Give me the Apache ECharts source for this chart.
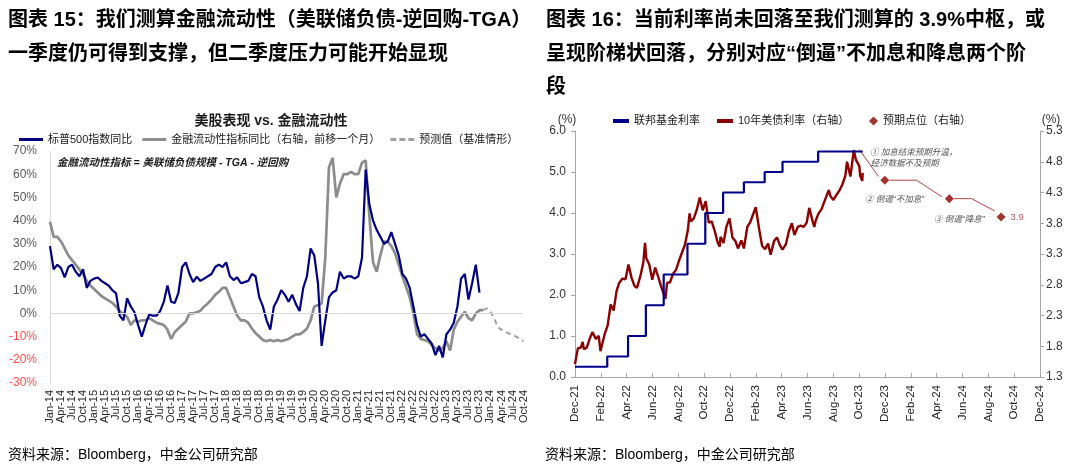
<!DOCTYPE html>
<html><head><meta charset="utf-8">
<script src="https://cdn.jsdelivr.net/npm/echarts@6/dist/echarts.min.js"></script>
<style>html,body{margin:0;padding:0;background:#fff}#c{width:1080px;height:473px}</style>
</head><body><div id="c"></div>
<script>
const FONT = '"Liberation Sans","Noto Sans CJK SC",sans-serif';
const MONTHS = ['Jan','Feb','Mar','Apr','May','Jun','Jul','Aug','Sep','Oct','Nov','Dec'];

// ---------- Left chart: monthly categories Jan-14 .. Oct-24 ----------
const leftCategories = [];
for (let y = 2014; y <= 2024; y++) for (let m = 0; m < 12; m++) {
  if (y === 2024 && m > 9) break;
  leftCategories.push(MONTHS[m] + '-' + String(y).slice(2));
}
const leftYTicks = [-30, 70, 10]; // min, max, step (%)

// S&P 500 YoY (%), Jan-14 .. Oct-23
const spxYoY = [29,19,21,19.5,15.5,20,21,18,16,19,
  11,14,15,15.5,14,13,12,10,8.6,-1,
  -3,6.5,3,0.5,-5,-10,-5,-0.5,-1,-1,
  1,5,12,5,4.5,9,20,22,17,13.5,
  15.8,14,15,16,17,20,21,20,22,16,
  14.4,15.5,13,13.5,14,17,16,7,3,-3,
  -7,3,6,10,8,5,8,4,1,11,
  16,28,25,13,-14,-3,7,9,10,18,
  15,16,16,15,16,24,62,47,40,36,
  33,30,31,35,30,25,17,15,11,3,
  -5,-10,-9,-11,-13,-18,-14,-19,-9,-7,
  -4,3,15,17,6,13,21,9];

// Financial liquidity YoY (%), shifted forward one month, Jan-14 .. Nov-23
const liqYoY = [39.5,33,33,31,28,25,23,21,19,17,
  14,12,10.5,9,7.5,6.5,5.5,4.5,3,1,
  -0.5,-1.4,-5,-3,-3.6,-3,-3,-2,-3,-4,
  -4.5,-5,-7,-11,-8,-6.5,-5,-3.5,0,0,
  0.5,1.2,3,4.3,6,8,9.3,11,11,7,
  3,-1,-3,-3,-4,-6.5,-8.5,-10,-11.5,-12,
  -11.5,-12,-11.5,-12,-11.5,-11,-10,-9,-9,-8,
  -6.5,-3,3,3.6,4.3,24,63,67,50,56,
  60,60,61,60,60,65,66,42,22,18,
  25,31,31,29,26,21,16,11.5,7,0,
  -9,-11,-11.5,-12,-13.6,-15,-16,-15,-12,-16,
  -7,-3.6,-1.4,0.7,-2,-3,0,1.4,1.4];

// Forecast (baseline), Nov-23 .. Oct-24
const forecastStart = 118;
const forecastYoY = [1.4,2.2,0.7,-2,-6,-7,-8,-8.6,-9.3,-10,-11,-12];

// ---------- Right chart ----------
const rateTickLabels = ['Dec-21','Feb-22','Apr-22','Jun-22','Aug-22','Oct-22','Dec-22','Feb-23','Apr-23','Jun-23','Aug-23','Oct-23','Dec-23','Feb-24','Apr-24','Jun-24','Aug-24','Oct-24','Dec-24'];
const leftRateTicks = [0, 6, 1];
const rightRateTicks = [1.3, 5.3, 0.5];

const fedDates = ['2021-12-31','2022-03-17','2022-05-05','2022-06-16','2022-07-28','2022-09-22','2022-11-03','2022-12-15','2023-02-02','2023-03-23','2023-05-04','2023-07-27','2023-11-09'];
const fedRates = [0.25,0.5,1.0,1.75,2.5,3.25,4.0,4.5,4.75,5.0,5.25,5.5,5.5];

const ust10Dates = ['2021-12-31','2022-01-03','2022-01-07','2022-01-14','2022-01-18','2022-01-21','2022-01-28','2022-02-04','2022-02-10','2022-02-18','2022-02-25','2022-03-01','2022-03-04','2022-03-11','2022-03-18','2022-03-25','2022-03-28','2022-04-01','2022-04-08','2022-04-14','2022-04-22','2022-04-29','2022-05-06','2022-05-13','2022-05-20','2022-05-26','2022-06-03','2022-06-10','2022-06-14','2022-06-17','2022-06-24','2022-07-01','2022-07-08','2022-07-15','2022-07-22','2022-08-01','2022-08-05','2022-08-12','2022-08-19','2022-08-26','2022-09-02','2022-09-09','2022-09-16','2022-09-23','2022-09-27','2022-09-30','2022-10-07','2022-10-14','2022-10-21','2022-10-28','2022-11-04','2022-11-11','2022-11-18','2022-11-25','2022-12-02','2022-12-07','2022-12-09','2022-12-16','2022-12-23','2022-12-30','2023-01-06','2023-01-13','2023-01-19','2023-01-27','2023-02-02','2023-02-10','2023-02-17','2023-02-24','2023-03-02','2023-03-10','2023-03-17','2023-03-24','2023-03-31','2023-04-06','2023-04-14','2023-04-21','2023-04-28','2023-05-04','2023-05-12','2023-05-19','2023-05-26','2023-06-01','2023-06-09','2023-06-16','2023-06-23','2023-06-30','2023-07-06','2023-07-14','2023-07-18','2023-07-21','2023-07-28','2023-08-04','2023-08-11','2023-08-21','2023-08-25','2023-09-01','2023-09-08','2023-09-15','2023-09-22','2023-09-29','2023-10-03','2023-10-11','2023-10-19','2023-10-24','2023-10-27','2023-11-01','2023-11-03','2023-11-08','2023-11-09'];
const ust10Rates = [1.51,1.63,1.77,1.78,1.87,1.75,1.78,1.93,2.03,1.92,1.97,1.72,1.73,2.00,2.14,2.48,2.46,2.38,2.70,2.83,2.90,2.89,3.13,2.92,2.78,2.75,2.94,3.16,3.48,3.23,3.13,2.88,3.08,2.93,2.77,2.57,2.83,2.84,2.98,3.04,3.19,3.32,3.45,3.69,3.96,3.83,3.88,4.02,4.22,4.01,4.16,3.81,3.83,3.68,3.49,3.42,3.58,3.48,3.75,3.88,3.57,3.51,3.39,3.52,3.39,3.74,3.82,3.95,4.06,3.70,3.43,3.38,3.47,3.29,3.51,3.57,3.44,3.37,3.46,3.67,3.80,3.61,3.74,3.76,3.74,3.81,4.05,3.83,3.74,3.84,3.96,4.03,4.16,4.34,4.24,4.18,4.26,4.33,4.43,4.57,4.80,4.56,4.99,4.83,4.84,4.73,4.57,4.49,4.62];

const expectDates = ['2023-12-31','2024-05-31','2024-09-30'];
const expectRates = [4.5, 4.2, 3.9];

// annotation arrows / texts, in [month offset from Dec-21, right-axis %]
const arrowPaths = [
  [[22.0,5.0],[23.5,4.56]],
  [[24.35,4.5],[26.45,4.5],[28.4,4.23]],
  [[29.35,4.2],[30.7,4.2],[32.5,4.0]]
];
const noteTexts = ['① 加息结束预期升温，','经济数据不及预期','② 倒逼“不加息”','③ 倒逼“降息”'];
const notePos = [[22.83,4.954],[22.9,4.775],[22.45,4.19],[27.79,3.864]];

// helpers
const BASE = Date.UTC(2021,11,31);
function monthPos(d){ const p = d.split('-').map(Number); return (Date.UTC(p[0],p[1]-1,p[2]) - BASE) / (86400000*30.4375); }
const fedData = fedDates.map((d,i)=>[monthPos(d), fedRates[i]]);
const ustData = ust10Dates.map((d,i)=>[monthPos(d), ust10Rates[i]]);
const expData = expectDates.map((d,i)=>{
  const o = {value:[monthPos(d), expectRates[i]]};
  if (i === expectDates.length-1) o.label = {show:true, position:'right', distance:5, formatter: String(expectRates[i]), color:'#A52A2A', fontSize:9.5, fontFamily:FONT};
  return o;
});
const forecastData = leftCategories.map((c,i)=> (i>=forecastStart && i-forecastStart<forecastYoY.length) ? forecastYoY[i-forecastStart] : null);

const chart = echarts.init(document.getElementById('c'), null, {renderer:'canvas'});
const txt = (x,y,text,font,opt) => Object.assign({type:'text', x, y, silent:true, style:Object.assign({text, font, fill:'#000', textAlign:'left', align:'left', textVerticalAlign:'middle', verticalAlign:'middle'}, opt||{})});

const ICON_LINE = 'path://M0,0L24,0L24,3L0,3Z';
const ICON_DASH = 'path://M0,0L6,0L6,3L0,3Z M9,0L15,0L15,3L9,3Z M18,0L24,0L24,3L18,3Z';

chart.setOption({
  animation:false,
  backgroundColor:'#fff',
  textStyle:{fontFamily:FONT},
  graphic:[
    txt(8,4,'图表 15：我们测算金融流动性（美联储负债-逆回购-TGA）\n一季度仍可得到支撑，但二季度压力可能开始显现','bold 20px '+FONT,{lineHeight:33.5,textVerticalAlign:'top',verticalAlign:'top'}),
    txt(546,4,'图表 16：当前利率尚未回落至我们测算的 3.9%中枢，或\n呈现阶梯状回落，分别对应“倒逼”不加息和降息两个阶\n段','bold 20px '+FONT,{lineHeight:33.5,textVerticalAlign:'top',verticalAlign:'top'}),
    txt(271,121,'美股表现 vs. 金融流动性','bold 14px '+FONT,{textAlign:'center',align:'center',fill:'#1a1a1a'}),
    txt(57,163,'金融流动性指标 = 美联储负债规模 - TGA - 逆回购','italic bold 10.5px '+FONT,{fill:'#1a1a1a'}),
    txt(8,455,'资料来源：Bloomberg，中金公司研究部','14px '+FONT),
    txt(545,455,'资料来源：Bloomberg，中金公司研究部','14px '+FONT),
    txt(567,120,'(%)','12px '+FONT,{textAlign:'center',align:'center',fill:'#333'}),
    txt(1051,120,'(%)','12px '+FONT,{textAlign:'center',align:'center',fill:'#333'})
  ],
  legend:[
    {left:19, top:134, padding:0, itemGap:10, itemWidth:24, itemHeight:3, selectedMode:false,
     textStyle:{fontSize:11, color:'#1a1a1a', fontFamily:FONT},
     data:[{name:'标普500指数同比',icon:ICON_LINE},{name:'金融流动性指标同比（右轴，前移一个月）',icon:ICON_LINE},{name:'预测值（基准情形）',icon:ICON_DASH}]},
    {left:613, top:115.5, padding:0, itemGap:17, itemWidth:16, itemHeight:4, selectedMode:false,
     textStyle:{fontSize:11, color:'#1a1a1a', fontFamily:FONT},
     data:[{name:'联邦基金利率',icon:'rect'},{name:'10年美债利率（右轴）',icon:'rect'}]},
    {left:869, top:115.5, padding:0, itemWidth:9, itemHeight:9, selectedMode:false,
     textStyle:{fontSize:11, color:'#1a1a1a', fontFamily:FONT},
     data:[{name:'预期点位（右轴）',icon:'diamond'}]}
  ],
  grid:[
    {left:50, right:556.5, top:151, bottom:90, containLabel:false},
    {left:575, right:40, top:131, bottom:96, containLabel:false}
  ],
  xAxis:[
    {type:'category', gridIndex:0, data:leftCategories, boundaryGap:false,
     axisLine:{show:false}, axisTick:{show:false}, splitLine:{show:false},
     axisLabel:{interval:(i)=> i%3===0, showMinLabel:true, showMaxLabel:true, hideOverlap:false, rotate:90, fontSize:11, color:'#262626', margin:7, fontFamily:FONT}},
    {type:'value', gridIndex:1, min:0, max:36, interval:2,
     axisLine:{show:true, lineStyle:{color:'#A6A6A6'}}, axisTick:{show:true, inside:true, length:4, lineStyle:{color:'#A6A6A6'}},
     splitLine:{show:false},
     axisLabel:{rotate:90, fontSize:11.5, color:'#262626', margin:8, fontFamily:FONT, showMinLabel:true, showMaxLabel:true,
       formatter:(v)=> rateTickLabels[Math.round(v/2)] || ''}}
  ],
  yAxis:[
    {type:'value', gridIndex:0, min:leftYTicks[0], max:leftYTicks[1], interval:leftYTicks[2],
     axisLine:{show:true, lineStyle:{color:'#D9D9D9', width:1}}, axisTick:{show:false}, splitLine:{show:false},
     axisLabel:{fontSize:12, margin:13, fontFamily:FONT, formatter:(v)=> v+'%',
       color:(v)=> (Number(v)<0 ? '#FF4D4D' : '#595959')}},
    {type:'value', gridIndex:1, min:leftRateTicks[0], max:leftRateTicks[1], interval:leftRateTicks[2],
     axisLine:{show:true, lineStyle:{color:'#A6A6A6'}}, axisTick:{show:true, length:4, lineStyle:{color:'#A6A6A6'}}, splitLine:{show:false},
     axisLabel:{fontSize:12, color:'#333', margin:9, fontFamily:FONT, formatter:(v)=> Number(v).toFixed(1)}},
    {type:'value', gridIndex:1, position:'right', min:rightRateTicks[0], max:rightRateTicks[1], interval:rightRateTicks[2],
     axisLine:{show:true, lineStyle:{color:'#A6A6A6'}}, axisTick:{show:true, length:4, lineStyle:{color:'#A6A6A6'}}, splitLine:{show:false},
     axisLabel:{fontSize:12, color:'#333', margin:6, fontFamily:FONT, formatter:(v)=> Number(v).toFixed(1)}}
  ],
  series:[
    {name:'标普500指数同比', type:'line', xAxisIndex:0, yAxisIndex:0, data:spxYoY, symbol:'none', z:4,
     lineStyle:{color:'#000080', width:2.2}, itemStyle:{color:'#000080'},
     markLine:{silent:true, symbol:'none', label:{show:false}, lineStyle:{color:'#D9D9D9', width:1, type:'solid'}, data:[{yAxis:0}]}},
    {name:'金融流动性指标同比（右轴，前移一个月）', type:'line', xAxisIndex:0, yAxisIndex:0, data:liqYoY, symbol:'none', z:3,
     lineStyle:{color:'#8C8C8C', width:2.7}, itemStyle:{color:'#8C8C8C'}},
    {name:'预测值（基准情形）', type:'line', xAxisIndex:0, yAxisIndex:0, data:forecastData, symbol:'none', z:3,
     lineStyle:{color:'#A0A0A0', width:2, type:[5,4]}, itemStyle:{color:'#A0A0A0'}},
    {name:'联邦基金利率', type:'line', xAxisIndex:1, yAxisIndex:1, data:fedData, step:'end', symbol:'none', z:4,
     lineStyle:{color:'#00008B', width:2.2}, itemStyle:{color:'#00008B'}},
    {name:'10年美债利率（右轴）', type:'line', xAxisIndex:1, yAxisIndex:2, data:ustData, symbol:'none', z:3,
     lineStyle:{color:'#8B0000', width:2.4}, itemStyle:{color:'#8B0000'}},
    {name:'预期点位（右轴）', type:'scatter', xAxisIndex:1, yAxisIndex:2, data:expData, symbol:'diamond', symbolSize:9, z:5,
     itemStyle:{color:'#8B0000'}},
    {name:'arrows', type:'lines', coordinateSystem:'cartesian2d', xAxisIndex:1, yAxisIndex:2, polyline:true, silent:true, z:4,
     symbol:['none','arrow'], symbolSize:5,
     lineStyle:{color:'#B04040', width:1, opacity:1, curveness:0},
     data:arrowPaths.map(c=>({coords:c}))},
    {name:'notes', type:'scatter', xAxisIndex:1, yAxisIndex:2, symbolSize:0, silent:true, z:6,
     data:notePos.map((p,i)=>[p[0],p[1],noteTexts[i]]),
     label:{show:true, position:'right', distance:0, formatter:(p)=>p.value[2], fontSize:8.5, fontStyle:'italic', color:'#262626', fontFamily:FONT}}
  ]
});
</script>
</body></html>
